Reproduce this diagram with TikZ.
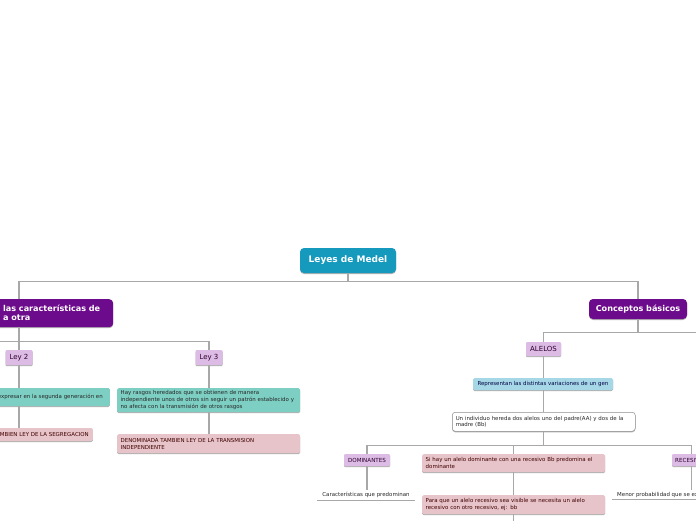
\documentclass[tikz,border=0pt]{standalone}
\usepackage{fontspec}
\setmainfont{DejaVu Sans}
\usetikzlibrary{shadows}
\definecolor{raiz}{HTML}{159ABE}
\definecolor{morado}{HTML}{6C0B8B}
\definecolor{lila}{HTML}{DCBCE4}
\definecolor{verde}{HTML}{7ECFC3}
\definecolor{rosa}{HTML}{E6C4C9}
\definecolor{celeste}{HTML}{A6D7E7}
\definecolor{linea}{HTML}{A8A8A8}
\begin{document}
\begin{tikzpicture}[x=1pt, y=-1pt,
    sombra/.style={drop shadow={shadow xshift=0pt, shadow yshift=-1pt, opacity=0.3, fill=black}},
    raizbox/.style={fill=raiz, text=white, rounded corners=4pt, font=\bfseries\fontsize{9}{10}\selectfont, minimum width=96, minimum height=25, sombra},
    tema/.style={fill=morado, text=white, rounded corners=4pt, font=\bfseries\fontsize{8.1}{9}\selectfont, sombra},
    etiqueta/.style={fill=lila, text=violet!35!black, rounded corners=1pt, inner xsep=3pt, inner ysep=0pt, font=\fontsize{7}{8}\selectfont, sombra},
    caja/.style={rounded corners=1.5pt, inner xsep=3.5pt, inner ysep=1.5pt, align=left, text=black!85, font=\fontsize{5.45}{6.8}\selectfont, sombra},
    llano/.style={inner xsep=5pt, inner ysep=2pt, text=black!85, font=\fontsize{5.45}{6.5}\selectfont},
    link/.style={draw=linea, line width=1.1pt},
    raya/.style={draw=linea, line width=0.8pt}]
  \fill[white] (0,0) rectangle (696,520);
  \useasboundingbox (0,0) rectangle (696,520);

  % ---------- raiz ----------
  \node[raizbox] (raiz) at (348,260.5) {Leyes de Medel};

  % ---------- rama izquierda ----------
  % 1. nodos
  \node[tema, anchor=north west, inner xsep=8pt, text width=102, minimum height=28, align=left] (ley1) at (-5,299) {las características de\\a otra};
  \node[etiqueta, minimum width=27, minimum height=15] (ley2) at (19,357.5) {Ley 2};
  \node[etiqueta, minimum width=27, minimum height=15] (ley3) at (209,357.5) {Ley 3};
  \node[caja, fill=verde, anchor=east, inner xsep=7pt, minimum height=18] (rasgo2) at (110,397) {expresar en la segunda generación en};
  \node[caja, fill=rosa, text=red!25!black, anchor=east, inner xsep=4pt, minimum height=13] (seg2) at (93,434.5) {TAMBIEN LEY DE LA SEGREGACION};
  \node[caja, fill=verde, anchor=north west, text width=176, minimum height=24] (rasgo3) at (117,388) {Hay rasgos heredados que se obtienen de manera\\independiente unos de otros sin seguir un patrón establecido y\\no afecta con la transmisión de otros rasgos};
  \node[caja, fill=rosa, text=red!25!black, anchor=north west, text width=176, minimum height=19] (seg3) at (117,434) {DENOMINADA TAMBIEN LEY DE LA TRANSMISION\\INDEPENDIENTE};

  % 2. conectores
  \draw[link] (raiz.south) -- ++(0,8) -| ([xshift=24pt]ley1.north west);
  \draw[link] ([xshift=24pt]ley1.south west) -- (ley2.north);
  \draw[link] (ley3.north) |- ++(-235,-8);
  \draw[link] (ley2.south) -- (rasgo2.north -| ley2.south);
  \draw[link] (rasgo2.south -| ley2.south) -- (seg2.north -| ley2.south);
  \draw[link] (ley3.south) -- (rasgo3.north -| ley3.south);
  \draw[link] (rasgo3.south -| ley3.south) -- (seg3.north -| ley3.south);

  % ---------- rama derecha ----------
  % 1. nodos
  \node[tema, minimum width=98, minimum height=20] (conc) at (638,309) {Conceptos básicos};
  \node[etiqueta, minimum width=35, minimum height=14] (alelos) at (543.5,349) {ALELOS};
  \node[caja, fill=celeste, text=blue!25!black, minimum width=140, minimum height=12, inner ysep=0pt] (def) at (543,384) {Representan las distintas variaciones de un gen};
  \node[caja, fill=white, draw=black!45, line width=0.5pt, rounded corners=3pt, anchor=north west, text width=176, minimum height=19] (indiv) at (452,412) {Un individuo hereda dos alelos uno del padre(AA) y dos de la\\madre (Bb)};
  \node[etiqueta, minimum width=46, minimum height=12, font=\fontsize{5.6}{6.5}\selectfont] (dom) at (367,460) {DOMINANTES};
  \node[caja, fill=rosa, text=red!25!black, anchor=north west, text width=176, minimum height=18] (sihay) at (422,454) {Si hay un alelo dominante con una recesivo Bb predomina el\\dominante};
  \node[etiqueta, anchor=west, minimum width=36, minimum height=12, font=\fontsize{5.6}{6.5}\selectfont] (rec) at (672,460) {RECESIVOS};
  \node[llano, minimum width=96] (car) at (366,495) {Características que predominan};
  \node[caja, fill=rosa, text=red!25!black, anchor=north west, text width=176, minimum height=19] (para) at (422,495) {Para que un alelo recesivo sea visible se necesita un alelo\\recesivo con otro recesivo, ej: bb};
  \node[llano, anchor=west] (menor) at (612,495) {Menor probabilidad que se expresa};

  % 2. conectores
  \draw[link] (raiz.south) -- ++(0,8) -| (conc.north);
  \draw[link] (conc.south) -- ++(0,13) -| (alelos.north);
  \draw[link] (conc.south) |- ++(80,13);
  \draw[link] (alelos.south) -- (def.north -| alelos.south);
  \draw[link] (def.south -| alelos.south) -- (indiv.north -| alelos.south);
  \draw[link] (indiv.south -| alelos.south) -- ++(0,14) -| (dom.north);
  \draw[link] (indiv.south -| alelos.south) -- ++(0,14) -| (sihay.north);
  \draw[link] (indiv.south -| alelos.south) -- ++(0,14) -| (rec.north);
  \draw[link] (dom.south) -- (car.north -| dom.south);
  \draw[link] (sihay.south) -- (para.north);
  \draw[link] (para.south) -- ++(0,10);
  \draw[link] (rec.south) -- (menor.north -| rec.south);
  \draw[raya] (car.south west) -- (car.south east);
  \draw[raya] (menor.south west) -- (menor.south east);
\end{tikzpicture}
\end{document}
